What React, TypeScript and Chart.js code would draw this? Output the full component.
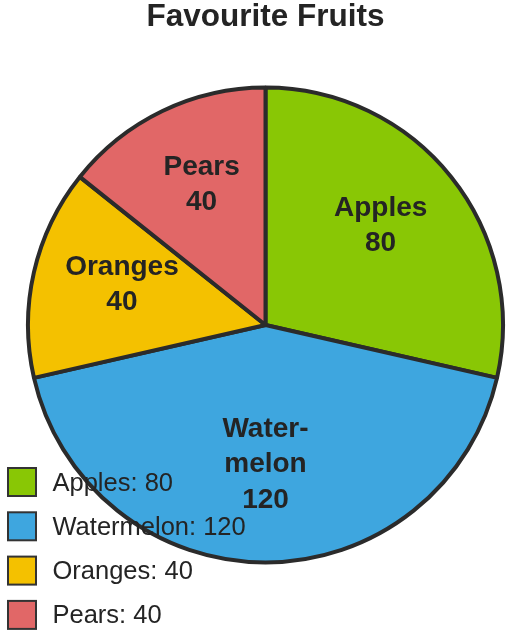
import React, { useEffect, useRef } from "react";
import { Chart, registerables } from "chart.js";

Chart.register(...registerables);

const categories = ["Apples", "Watermelon", "Oranges", "Pears"];
const values = [80, 120, 40, 40];
const sliceLabelLines = [["Apples"], ["Water-", "melon"], ["Oranges"], ["Pears"]];
const sliceColors = ["#89c705", "#3ea6df", "#f4c100", "#e16767"];
const chartTitle = "Favourite Fruits";

const FONT = "'Liberation Sans', Arial, Helvetica, sans-serif";
const TEXT = "#242424";
const BORDER = "#2b2b2b";

const sliceLabelPlugin = {
  id: "sliceLabels",
  afterDatasetsDraw(chart: any) {
    const ctx = chart.ctx;
    const meta = chart.getDatasetMeta(0);
    ctx.save();
    ctx.font = `bold 28px ${FONT}`;
    ctx.fillStyle = TEXT;
    ctx.textAlign = "center";
    ctx.textBaseline = "middle";
    const lineH = 35.5;
    meta.data.forEach((arc: any, i: number) => {
      const p = arc.getProps(["x", "y", "startAngle", "endAngle", "outerRadius"], true);
      const mid = (p.startAngle + p.endAngle) / 2;
      const r = p.outerRadius * 0.62;
      const cx = p.x + Math.cos(mid) * r;
      const cy = p.y + Math.sin(mid) * r - 7.5;
      const lines = [...sliceLabelLines[i], String(values[i])];
      const top = cy - ((lines.length - 1) * lineH) / 2;
      lines.forEach((t, j) => ctx.fillText(t, cx, top + j * lineH));
    });
    ctx.restore();
  },
};

const overlayLegendPlugin = {
  id: "overlayLegend",
  afterDraw(chart: any) {
    const ctx = chart.ctx;
    ctx.save();
    const baseY = 482;
    const step = 44.3;
    categories.forEach((name, i) => {
      const yc = baseY + i * step;
      ctx.fillStyle = sliceColors[i];
      ctx.fillRect(8, yc - 14, 28, 28);
      ctx.lineWidth = 2;
      ctx.strokeStyle = "#333333";
      ctx.strokeRect(8, yc - 14, 28, 28);
      ctx.font = `25.5px ${FONT}`;
      ctx.fillStyle = TEXT;
      ctx.textAlign = "left";
      ctx.textBaseline = "middle";
      ctx.fillText(`${name}: ${values[i]}`, 52.5, yc + 1.5);
    });
    ctx.restore();
  },
};

export default function App() {
  const canvasRef = useRef<HTMLCanvasElement | null>(null);

  useEffect(() => {
    if (!canvasRef.current) return;
    const chart = new Chart(canvasRef.current, {
      type: "pie",
      data: {
        labels: categories,
        datasets: [
          {
            data: values,
            backgroundColor: sliceColors,
            borderColor: BORDER,
            borderWidth: 4,
          },
        ],
      },
      options: {
        animation: false,
        responsive: false,
        events: [],
        layout: { padding: { top: 0, left: 18, right: 0, bottom: 72.5 } },
        plugins: {
          legend: { display: false },
          tooltip: { enabled: false },
          title: {
            display: true,
            text: chartTitle,
            color: TEXT,
            font: { family: FONT, size: 31.5, weight: "bold", lineHeight: "35px" },
            padding: { top: 0, bottom: 50.5 },
          },
        },
      },
      plugins: [sliceLabelPlugin, overlayLegendPlugin],
    });
    return () => chart.destroy();
  }, []);

  return (
    <div style={{ position: "absolute", left: 0, top: 0, width: 513, height: 637, background: "#fff" }}>
      <canvas ref={canvasRef} width={513} height={637} style={{ display: "block", width: 513, height: 637 }} />
    </div>
  );
}
